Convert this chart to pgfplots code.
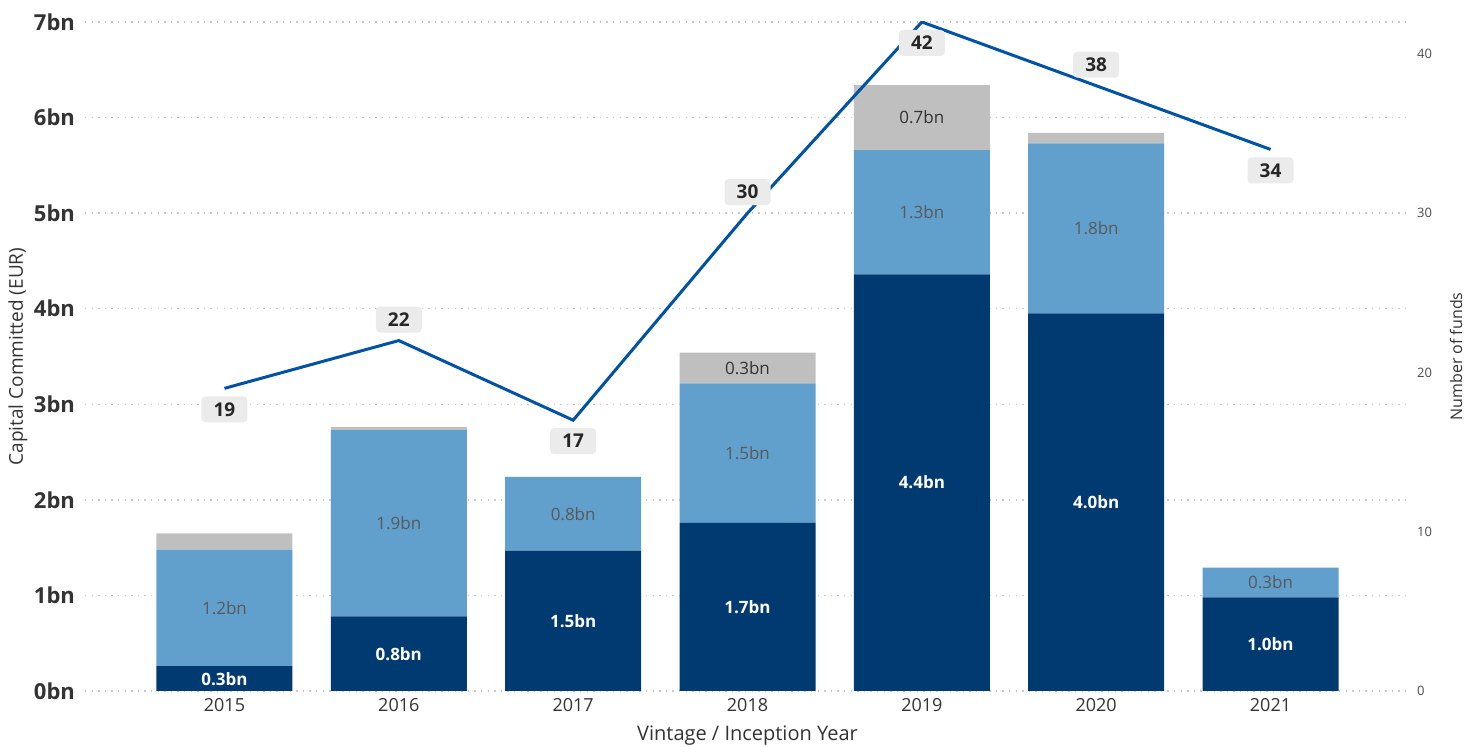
\documentclass[border=0pt]{standalone}
\usepackage{fontspec}
\setmainfont{Open Sans}
\usepackage{pgfplots}
\usepackage{pgfplotstable}
\pgfplotsset{compat=1.18}

\definecolor{navy}{HTML}{003A70}
\definecolor{midblue}{HTML}{61A0CC}
\definecolor{lgrey}{HTML}{BFBFBF}
\definecolor{linecol}{HTML}{0052A5}
\definecolor{boxgrey}{HTML}{EBEBEB}
\definecolor{gridc}{HTML}{C8C8C8}
\definecolor{txt}{HTML}{333333}

% capital committed, bn EUR (three stacked parts per vintage)
\pgfplotstableread{
x dark med grey
0 0.26 1.22 0.17
1 0.78 1.95 0.03
2 1.47 0.77 0.00
3 1.76 1.46 0.32
4 4.36 1.30 0.68
5 3.95 1.78 0.11
6 0.98 0.31 0.00
}\bars

% segment labels (at segment centres)
\pgfplotstableread{
x y lab
0 0.12 0.3bn
1 0.39 0.8bn
2 0.735 1.5bn
3 0.88 1.7bn
4 2.18 4.4bn
5 1.975 4.0bn
6 0.49 1.0bn
}\darklab
\pgfplotstableread{
x y lab
0 0.87 1.2bn
1 1.755 1.9bn
2 1.855 0.8bn
3 2.49 1.5bn
4 5.01 1.3bn
5 4.84 1.8bn
6 1.135 0.3bn
}\medlab
\pgfplotstableread{
x y lab
3 3.38 0.3bn
4 6.00 0.7bn
}\greylab

% number of funds
\pgfplotstableread{
x n
0 19
1 22
2 17
3 30
4 42
5 38
6 34
}\funds
\pgfplotstableread{
x n lab
1 22 22
3 30 30
5 38 38
}\fundsup
\pgfplotstableread{
x n lab
0 19 19
2 17 17
4 42 42
6 34 34
}\fundsdown

\begin{document}
\begin{tikzpicture}
\pgfplotsset{
  base/.style={
    width=662.5pt, height=334.5pt, scale only axis,
    xmin=-0.8, xmax=6.8, ymin=0, ymax=7,
    axis line style={draw=none},
    major tick length=0pt,
    /pgf/number format/assume math mode=true,
  },
  seglab/.style={
    draw=none, mark=none, nodes near coords,
    point meta=explicit symbolic,
    every node near coord/.append style={anchor=center, inner sep=0pt, font=\fontsize{8.5}{10}\selectfont},
  },
  funlab/.style={
    draw=none, mark=none, nodes near coords,
    point meta=explicit symbolic,
    every node near coord/.append style={anchor=center, fill=boxgrey, rounded corners=2pt,
      minimum width=23pt, minimum height=13pt, inner sep=1pt, text=black!85,
      font=\bfseries\fontsize{9.5}{11}\selectfont},
  },
}
\begin{axis}[base,
  ybar stacked, bar width=68pt,
  xtick={0,...,6},
  xticklabels={2015,2016,2017,2018,2019,2020,2021},
  xticklabel style={font=\fontsize{9}{10}\selectfont, text=txt},
  ytick={0,...,7},
  yticklabels={0bn,1bn,2bn,3bn,4bn,5bn,6bn,7bn},
  yticklabel style={font=\bfseries\fontsize{11}{12}\selectfont, text=txt, xshift=-1.5pt},
  ymajorgrids,
  grid style={gridc, line width=0.7pt, dash pattern=on 0.7pt off 2.6pt},
  xlabel={Vintage / Inception Year},
  every axis x label/.style={at={(axis description cs:0.5,-0.0673)}, anchor=center, font=\fontsize{10}{12}\selectfont, text=txt},
  ylabel={Capital Committed (EUR)},
  every axis y label/.style={at={(axis description cs:-0.0506,0.5)}, anchor=center, rotate=90, font=\fontsize{9.5}{11}\selectfont, text=txt},
]
\addplot[fill=navy, draw=none] table[x=x, y=dark]{\bars};
\addplot[fill=midblue, draw=none] table[x=x, y=med]{\bars};
\addplot[fill=lgrey, draw=none] table[x=x, y=grey]{\bars};
\coordinate (SW) at (rel axis cs:0,0);
\coordinate (NE) at (rel axis cs:1,1);
\end{axis}

\begin{axis}[base, hide axis]
\addplot[seglab, every node near coord/.append style={text=white, font=\bfseries\fontsize{8.5}{10}\selectfont}]
  table[x=x, y=y, meta=lab]{\darklab};
\addplot[seglab, every node near coord/.append style={text=black!65}]
  table[x=x, y=y, meta=lab]{\medlab};
\addplot[seglab, every node near coord/.append style={text=black!80}]
  table[x=x, y=y, meta=lab]{\greylab};
\end{axis}

\begin{axis}[base, ymax=42,
  axis y line*=right, hide x axis,
  ytick={0,10,20,30,40},
  yticklabel style={font=\fontsize{6.5}{8}\selectfont, text=black!70},
  ylabel={Number of funds},
  every axis y label/.style={at={(axis description cs:1.0347,0.5)}, anchor=center, rotate=90, font=\fontsize{8}{10}\selectfont, text=txt},
]
\addplot[linecol, line width=1.5pt, mark=none] table[x=x, y=n]{\funds};
\addplot[funlab, every node near coord/.append style={yshift=10.5pt}]
  table[x=x, y=n, meta=lab]{\fundsup};
\addplot[funlab, every node near coord/.append style={yshift=-10.5pt}]
  table[x=x, y=n, meta=lab]{\fundsdown};
\end{axis}

\pgfresetboundingbox
\path[use as bounding box] ([xshift=-42.5pt, yshift=-28pt]SW) rectangle ([xshift=33.5pt, yshift=11pt]NE);
\end{tikzpicture}
\end{document}
